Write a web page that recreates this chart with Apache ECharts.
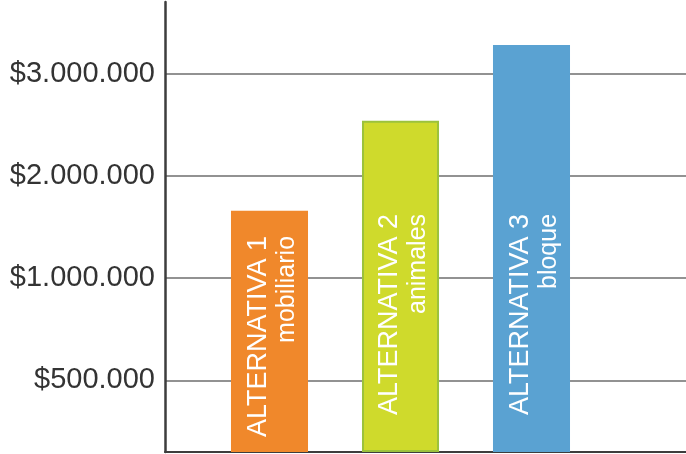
<!DOCTYPE html>
<html>
<head>
<meta charset="utf-8">
<script src="https://cdn.jsdelivr.net/npm/echarts@6/dist/echarts.min.js"></script>
<style>html,body{margin:0;padding:0;background:#fff}#c{width:686px;height:454px}</style>
</head>
<body>
<div id="c"></div>
<script>
// Data
const categories = ['ALTERNATIVA 1', 'ALTERNATIVA 2', 'ALTERNATIVA 3'];
const subtitles = ['mobiliario', 'animales', 'bloque'];
const values = [1660000, 2540000, 3280000];
const tickValues = [0, 1000000, 2000000, 3000000];
const tickLabels = ['$500.000', '$1.000.000', '$2.000.000', '$3.000.000'];
const barColors = ['#F0882B', '#CFDA2C', '#5AA2D2'];
const barBorders = ['#F0882B', '#9CC23C', '#5AA2D2'];
const labelLift = [15, 37, 37];

const yMin = -700000, yMax = 3700000;
const chart = echarts.init(document.getElementById('c'), null, {renderer: 'canvas'});
const font = 'Liberation Sans, Arial, Helvetica, sans-serif';

function renderBar(params, api) {
  const i = api.value(0);
  const v = api.value(1);
  const top = api.coord([i, v]);
  const bot = api.coord([i, yMin]);
  const w = api.size([1, 0])[0] * 0.588;
  const bw = i === 1 ? 2 : 0;
  return {
    type: 'group',
    children: [
      {
        type: 'rect',
        shape: {x: top[0] - w / 2 + bw / 2, y: top[1] + bw / 2, width: w - bw, height: bot[1] - top[1] - bw},
        style: {fill: barColors[i], stroke: bw ? barBorders[i] : null, lineWidth: bw}
      },
      {
        type: 'text',
        x: top[0] + 3,
        y: bot[1] - labelLift[i],
        rotation: Math.PI / 2,
        style: {
          text: '{a|' + categories[i] + '}\n{b|' + subtitles[i] + '}',
          align: 'left',
          verticalAlign: 'middle',
          fill: '#fff',
          rich: {
            a: {fill: '#fff', fontSize: 27, fontFamily: font, lineHeight: 30, align: 'right'},
            b: {fill: '#fff', fontSize: 25, fontFamily: font, lineHeight: 28, align: 'right'}
          }
        }
      }
    ]
  };
}

chart.setOption({
  animation: false,
  grid: [
    {left: 165, right: 0, top: 2, bottom: 2, containLabel: false},
    {left: 204, width: 393, top: 2, bottom: 2, containLabel: false}
  ],
  xAxis: [
    {type: 'category', gridIndex: 0, data: ['a'], axisLabel: {show: false}, axisTick: {show: false},
     axisLine: {show: true, onZero: false, lineStyle: {color: '#3d3d3d', width: 2}}},
    {type: 'category', gridIndex: 1, data: categories, show: false}
  ],
  yAxis: [
    {type: 'value', gridIndex: 0, min: yMin, max: yMax,
     axisLine: {show: true, onZero: false, lineStyle: {color: '#3d3d3d', width: 2.5}},
     axisTick: {show: false, customValues: tickValues},
     splitLine: {show: true, customValues: tickValues, lineStyle: {color: '#6e6e6e', width: 1.5}},
     axisLabel: {customValues: tickValues, margin: 10, color: '#333', fontSize: 29, fontFamily: font,
       formatter: function (v) { const i = tickValues.indexOf(v); return i >= 0 ? tickLabels[i] : ''; }}
    },
    {type: 'value', gridIndex: 1, min: yMin, max: yMax, show: false, splitLine: {show: false}}
  ],
  series: [{
    type: 'custom',
    xAxisIndex: 1, yAxisIndex: 1,
    renderItem: renderBar,
    encode: {x: 0, y: 1},
    data: values.map((v, i) => [i, v])
  }]
});
</script>
</body>
</html>
